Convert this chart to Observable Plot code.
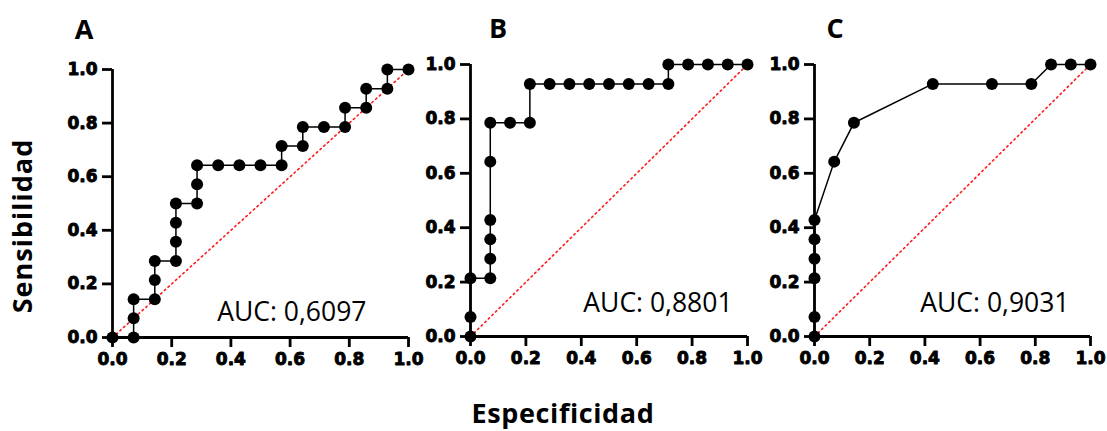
<!DOCTYPE html>
<html>
<head>
<meta charset="utf-8">
<script src="https://cdn.jsdelivr.net/npm/d3@7"></script>
<script src="https://cdn.jsdelivr.net/npm/@observablehq/plot@0.6"></script>
<style>
  body { margin: 0; background: white; }
  #wrap { position: relative; width: 1107px; height: 431px; overflow: hidden; background: white; }
  .panel { position: absolute; top: 0; }
  .lbl { position: absolute; font-family: "Open Sans", sans-serif; font-weight: 700; color: #000; white-space: nowrap; }
</style>
</head>
<body>
<div id="wrap"></div>
<script>
// ---- Data ----
const panelLetters = ["A", "B", "C"];
const aucLabels = ["AUC: 0,6097", "AUC: 0,8801", "AUC: 0,9031"];

// Panel A: 1 - specificity (x) and sensitivity (y)
const fprA = [0, 0.0714, 0.0714, 0.0714, 0.1429, 0.1429, 0.1429, 0.2143, 0.2143, 0.2143, 0.2143, 0.2857, 0.2857, 0.2857, 0.3571, 0.4286, 0.5, 0.5714, 0.5714, 0.6429, 0.6429, 0.7143, 0.7857, 0.7857, 0.8571, 0.8571, 0.9286, 0.9286, 1];
const tprA = [0, 0, 0.0714, 0.1429, 0.1429, 0.2143, 0.2857, 0.2857, 0.3571, 0.4286, 0.5, 0.5, 0.5714, 0.6429, 0.6429, 0.6429, 0.6429, 0.6429, 0.7143, 0.7143, 0.7857, 0.7857, 0.7857, 0.8571, 0.8571, 0.9286, 0.9286, 1, 1];

// Panel B
const fprB = [0, 0, 0, 0.0714, 0.0714, 0.0714, 0.0714, 0.0714, 0.0714, 0.1429, 0.2143, 0.2143, 0.2857, 0.3571, 0.4286, 0.5, 0.5714, 0.6429, 0.7143, 0.7143, 0.7857, 0.8571, 0.9286, 1];
const tprB = [0, 0.0714, 0.2143, 0.2143, 0.2857, 0.3571, 0.4286, 0.6429, 0.7857, 0.7857, 0.7857, 0.9286, 0.9286, 0.9286, 0.9286, 0.9286, 0.9286, 0.9286, 0.9286, 1, 1, 1, 1, 1];

// Panel C
const fprC = [0, 0, 0, 0, 0, 0, 0.0714, 0.1429, 0.4286, 0.6429, 0.7857, 0.8571, 0.9286, 1];
const tprC = [0, 0.0714, 0.2143, 0.2857, 0.3571, 0.4286, 0.6429, 0.7857, 0.9286, 0.9286, 0.9286, 1, 1, 1];

const axisTicks = [0, 0.2, 0.4, 0.6, 0.8, 1.0];
const chanceLine = [0, 1];

const xTitle = "Especificidad";
const yTitle = "Sensibilidad";

// ---- Layout (pixel placement of each panel) ----
const layouts = [
  { fpr: fprA, tpr: tprA, left: 0,   width: 420, mL: 112, mR: 12, mT: 69, mB: 40, aucX: 0.858, aucY: 0.093 },
  { fpr: fprB, tpr: tprB, left: 420, width: 345, mL: 50,  mR: 18, mT: 64, mB: 41, aucX: 0.946, aucY: 0.121 },
  { fpr: fprC, tpr: tprC, left: 765, width: 342, mL: 49,  mR: 17, mT: 64, mB: 41, aucX: 0.924, aucY: 0.121 }
];

const wrap = document.getElementById("wrap");
const fmt = d3.format(".1f");
const axisStroke = 2.8;
const tickText = {text: fmt, fontFamily: "DejaVu Sans, sans-serif", fontSize: 17, fontWeight: "bold",
                  fill: "black", stroke: "black", strokeWidth: 0.9};

layouts.forEach((L, i) => {
  const pts = L.fpr.map((x, k) => ({x, y: L.tpr[k]}));
  const diag = chanceLine.map(v => ({x: v, y: v}));
  const svg = Plot.plot({
    width: L.width,
    height: 377,
    marginLeft: L.mL,
    marginRight: L.mR,
    marginTop: L.mT,
    marginBottom: L.mB,
    x: {domain: [0, 1], axis: null},
    y: {domain: [0, 1], axis: null},
    style: {background: "transparent", overflow: "visible"},
    marks: [
      Plot.line(diag, {x: "x", y: "y", stroke: "#ff1a1a", strokeWidth: 1.6, strokeDasharray: "1.6,3.4"}),
      Plot.ruleX([0], {strokeWidth: axisStroke, stroke: "black"}),
      Plot.ruleY([0], {strokeWidth: axisStroke, stroke: "black"}),
      // tick marks (labels drawn separately below)
      Plot.axisY({ticks: axisTicks, tickFormat: () => "", tickSize: 10, strokeWidth: axisStroke, stroke: "black", label: null}),
      Plot.axisX({ticks: axisTicks, tickFormat: () => "", tickSize: 10, strokeWidth: axisStroke, stroke: "black", label: null}),
      // tick labels
      Plot.text(axisTicks, {y: d => d, frameAnchor: "left", dx: -15, textAnchor: "end", ...tickText}),
      Plot.text(axisTicks, {x: d => d, frameAnchor: "bottom", dy: 27, ...tickText}),
      Plot.line(pts, {x: "x", y: "y", stroke: "black", strokeWidth: 1.5}),
      Plot.dot(pts, {x: "x", y: "y", r: 6, fill: "black", stroke: "none"}),
      Plot.text([aucLabels[i]], {x: L.aucX, y: L.aucY, text: d => d, textAnchor: "end",
                 fontSize: 26.5, fontWeight: "normal", fontFamily: "Open Sans, sans-serif", fill: "black"})
    ]
  });
  svg.classList.add("panel");
  svg.style.left = L.left + "px";
  svg.style.background = "transparent";
  d3.select(svg).selectAll('g[aria-label$="tick"] path').attr("stroke-width", axisStroke);
  wrap.appendChild(svg);
});

// Panel letters
const letterPos = [[84, 28], [498, 27], [835, 27]];
panelLetters.forEach((t, i) => {
  const d = document.createElement("div");
  d.className = "lbl";
  d.textContent = t;
  d.style.fontSize = "27px";
  d.style.left = letterPos[i][0] + "px";
  d.style.top = letterPos[i][1] + "px";
  d.style.transform = "translate(-50%, -50%)";
  wrap.appendChild(d);
});

// Axis titles
const xt = document.createElement("div");
xt.className = "lbl";
xt.textContent = xTitle;
xt.style.fontSize = "27px";
xt.style.letterSpacing = "0.6px";
xt.style.left = "563px";
xt.style.top = "412px";
xt.style.transform = "translate(-50%, -50%)";
wrap.appendChild(xt);

const yt = document.createElement("div");
yt.className = "lbl";
yt.textContent = yTitle;
yt.style.fontSize = "27px";
yt.style.letterSpacing = "1px";
yt.style.left = "21px";
yt.style.top = "226px";
yt.style.transform = "translate(-50%, -50%) rotate(-90deg)";
wrap.appendChild(yt);
</script>
</body>
</html>
